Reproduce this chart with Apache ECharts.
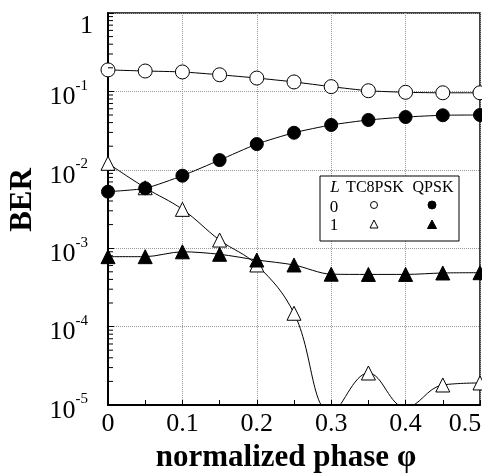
<!DOCTYPE html>
<html>
<head>
<meta charset="utf-8">
<script src="https://cdn.jsdelivr.net/npm/echarts@6/dist/echarts.min.js"></script>
<style>html,body{margin:0;padding:0;background:#fff;}#c{width:482px;height:475px;}</style>
</head>
<body>
<div id="c"></div>
<script>
const phase = [0, 0.05, 0.1, 0.15, 0.2, 0.25, 0.3, 0.35, 0.4, 0.45, 0.5];
const tc8pskL0 = [0.188, 0.182, 0.177, 0.163, 0.148, 0.132, 0.115, 0.102, 0.0974, 0.096, 0.096];
const qpskL0 = [0.00526, 0.00581, 0.00841, 0.0133, 0.0213, 0.0297, 0.0373, 0.0432, 0.0471, 0.0496, 0.050];
const tc8pskL1 = [0.0121, 0.0059, 0.00313, 0.00127, 0.000611, 0.000148, 0.000008, 0.0000256, 0.0000093, 0.000018, 0.0000191];
const qpskL1 = [0.00078, 0.00078, 0.0009, 0.000836, 0.000707, 0.000611, 0.000466, 0.000463, 0.000463, 0.000483, 0.000487];
const xTickLabels = ['0', '0.1', '0.2', '0.3', '0.4', '0.5'];

const FONT = 'Liberation Serif';
const minorY = [];
for (let e = -5; e <= -1; e++) for (let m = 2; m <= 9; m++) minorY.push(m * Math.pow(10, e));

function pairs(ys) { return phase.map((x, i) => [x, ys[i]]); }

const chart = echarts.init(document.getElementById('c'));
chart.setOption({
  animation: false,
  backgroundColor: '#fff',
  grid: { left: 108, right: 2, top: 13, bottom: 70, show: true, borderColor: '#000', borderWidth: 1.5,
    containLabel: false, outerBoundsMode: 'none' },
  xAxis: {
    type: 'value', min: 0, max: 0.5, interval: 0.1,
    name: 'normalized phase φ', nameLocation: 'middle', nameGap: 37,
    nameTextStyle: { fontFamily: FONT, fontWeight: 'bold', fontSize: 31, color: '#000', padding: [0, 16, 0, 0] },
    axisLine: { show: true, lineStyle: { color: '#000', width: 2 } },
    axisTick: { show: true, inside: true, length: 5, lineStyle: { color: '#000' } },
    minorTick: { show: true, splitNumber: 2, length: 5, lineStyle: { color: '#000' } },
    axisLabel: { margin: 6, color: '#000', hideOverlap: false,
      formatter: v => {
        const i = Math.round(v * 10);
        return i === xTickLabels.length - 1 ? '{last|' + xTickLabels[i] + '}' : '{n|' + xTickLabels[i] + '}';
      },
      rich: {
        n: { fontFamily: FONT, fontSize: 26, color: '#000' },
        last: { fontFamily: FONT, fontSize: 26, color: '#000', padding: [0, 30, 0, 0] }
      }
    },
    splitLine: { show: true, lineStyle: { color: '#999', type: 'dotted', width: 1 } }
  },
  yAxis: {
    type: 'log', logBase: 10, min: 1e-5, max: 1,
    name: 'BER', nameLocation: 'middle', nameGap: 68, nameRotate: 90,
    nameTextStyle: { fontFamily: FONT, fontWeight: 'bold', fontSize: 31, color: '#000', padding: [0, 0, 0, 18] },
    axisLine: { show: true, lineStyle: { color: '#000', width: 2 } },
    axisTick: { show: true, inside: true, length: 6, lineStyle: { color: '#000' } },
    axisLabel: {
      margin: 15, color: '#000',
      formatter: v => {
        const e = Math.round(Math.log10(v));
        return e === 0 ? '{one|1}' : '{b|10}{s|' + e + '}';
      },
      rich: {
        one: { fontFamily: FONT, fontSize: 26, color: '#000', lineHeight: 26, padding: [26, 0, 0, 0] },
        b: { fontFamily: FONT, fontSize: 26, color: '#000', lineHeight: 26, padding: [12, 0, 0, 0] },
        s: { fontFamily: FONT, fontSize: 15, color: '#000', verticalAlign: 'top', padding: [0, 5, 0, 0] }
      }
    },
    splitLine: { show: true, lineStyle: { color: '#999', type: 'dotted', width: 1 } }
  },
  series: [
    {
      type: 'custom', silent: true, clip: false, z: 5,
      data: minorY.map(v => [0, v]),
      renderItem: (params, api) => {
        const p = api.coord([0, api.value(1)]);
        return { type: 'line', shape: { x1: p[0], y1: p[1], x2: p[0] + 5, y2: p[1] }, style: { stroke: '#000', lineWidth: 1 } };
      }
    },
    {
      name: 'TC8PSK L=1', type: 'line', data: pairs(tc8pskL1), smooth: 0.4, clip: true,
      symbol: 'triangle', symbolSize: 14, showAllSymbol: true,
      lineStyle: { color: '#000', width: 1 },
      itemStyle: { color: '#fff', borderColor: '#000', borderWidth: 1 }
    },
    {
      name: 'TC8PSK L=0', type: 'line', data: pairs(tc8pskL0), smooth: 0.2,
      symbol: 'circle', symbolSize: 14,
      lineStyle: { color: '#000', width: 1 },
      itemStyle: { color: '#fff', borderColor: '#000', borderWidth: 1 }
    },
    {
      name: 'QPSK L=0', type: 'line', data: pairs(qpskL0), smooth: 0.2,
      symbol: 'circle', symbolSize: 13,
      lineStyle: { color: '#000', width: 1 },
      itemStyle: { color: '#000', borderColor: '#000', borderWidth: 1 }
    },
    {
      name: 'QPSK L=1', type: 'line', data: pairs(qpskL1), smooth: 0.3,
      symbol: 'triangle', symbolSize: 14,
      lineStyle: { color: '#000', width: 1 },
      itemStyle: { color: '#000', borderColor: '#000', borderWidth: 1 }
    }
  ],
  graphic: [
    { type: 'rect', shape: { x: 320, y: 176, width: 139, height: 65 }, style: { fill: '#fff', stroke: '#000', lineWidth: 1 }, z: 100 },
    { type: 'text', x: 335, y: 188, style: { text: 'L', fontFamily: FONT, fontStyle: 'italic', fontSize: 17, fill: '#000', align: 'center', verticalAlign: 'middle' }, z: 101 },
    { type: 'text', x: 375, y: 188, style: { text: 'TC8PSK', fontFamily: FONT, fontSize: 16, fill: '#000', align: 'center', verticalAlign: 'middle' }, z: 101 },
    { type: 'text', x: 433, y: 188, style: { text: 'QPSK', fontFamily: FONT, fontSize: 16, fill: '#000', align: 'center', verticalAlign: 'middle' }, z: 101 },
    { type: 'text', x: 334, y: 208, style: { text: '0', fontFamily: FONT, fontSize: 17, fill: '#000', align: 'center', verticalAlign: 'middle' }, z: 101 },
    { type: 'text', x: 334, y: 226, style: { text: '1', fontFamily: FONT, fontSize: 17, fill: '#000', align: 'center', verticalAlign: 'middle' }, z: 101 },
    { type: 'circle', shape: { cx: 374, cy: 205, r: 3.5 }, style: { fill: '#fff', stroke: '#000', lineWidth: 1 }, z: 101 },
    { type: 'circle', shape: { cx: 432, cy: 205, r: 4 }, style: { fill: '#000', stroke: '#000', lineWidth: 1 }, z: 101 },
    { type: 'polygon', shape: { points: [[374, 220], [378, 228], [370, 228]] }, style: { fill: '#fff', stroke: '#000', lineWidth: 1 }, z: 101 },
    { type: 'polygon', shape: { points: [[432, 220], [436.5, 228.5], [427.5, 228.5]] }, style: { fill: '#000', stroke: '#000', lineWidth: 1 }, z: 101 }
  ]
});
</script>
</body>
</html>
